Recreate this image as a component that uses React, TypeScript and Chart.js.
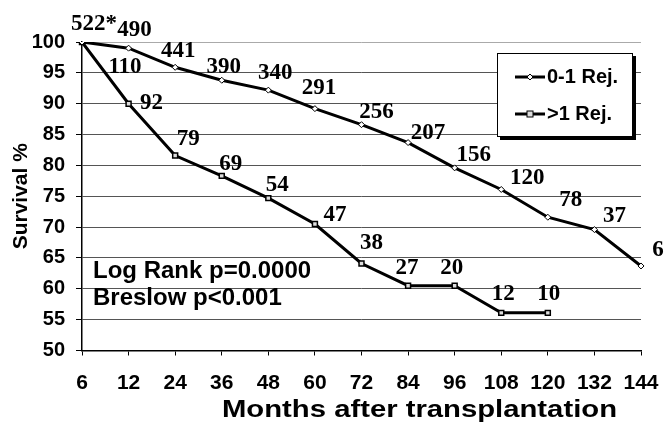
import React, { useEffect, useRef } from 'react';
import { Chart, registerables } from 'chart.js';

Chart.register(...registerables);

// ---- data ----
const months = ['6', '12', '24', '36', '48', '60', '72', '84', '96', '108', '120', '132', '144'];
const seriesNames = ['0-1 Rej.', '>1 Rej.'];
const lowRejSurvival = [100, 99.0, 95.9, 93.8, 92.2, 89.2, 86.6, 83.7, 79.6, 76.1, 71.6, 69.6, 63.7];
const highRejSurvival = [100, 90.0, 81.6, 78.3, 74.7, 70.5, 64.1, 60.5, 60.5, 56.1, 56.1, null, null];
const lowRejAtRisk = ['522*', '490', '441', '390', '340', '291', '256', '207', '156', '120', '78', '37', '6'];
const highRejAtRisk = ['110', '92', '79', '69', '54', '47', '38', '27', '20', '12', '10'];
const statsLines = ['Log Rank p=0.0000', 'Breslow p<0.001'];
const yMin = 50;
const yMax = 100;
const yStep = 5;
const xTitle = 'Months after transplantation';
const yTitle = 'Survival %';

// ---- label placement (offsets from each point, style only) ----
const lowLabelOffsets: [number, number][] = [
  [12, -18], [6, -18], [3, -16], [2, -13], [7, -17], [4, -21], [15, -13],
  [20, -10], [19, -13], [26, -11], [23, -17], [20, -14], [17, -16],
];
const highLabelOffsets: [number, number][] = [
  [43, 25], [23, -1], [13, -16], [9, -12], [9, -13], [20, -9], [10, -20],
  [-1, -18], [-3, -18], [2, -19], [1, -19],
];

const SANS = '"Liberation Sans", Arial, sans-serif';
const SERIF = '"Liberation Serif", "Times New Roman", serif';

const annotationPlugin = {
  id: 'annotations',
  afterDatasetsDraw(chart: any) {
    const ctx = chart.ctx;
    const area = chart.chartArea;
    ctx.save();
    // at-risk labels
    ctx.font = `bold 23px ${SERIF}`;
    ctx.fillStyle = '#000';
    ctx.textAlign = 'center';
    ctx.textBaseline = 'middle';
    const groups = [
      { labels: lowRejAtRisk, offsets: lowLabelOffsets },
      { labels: highRejAtRisk, offsets: highLabelOffsets },
    ];
    groups.forEach((g, di) => {
      const meta = chart.getDatasetMeta(di);
      g.labels.forEach((txt, i) => {
        const pt = meta.data[i];
        if (!pt) return;
        const [dx, dy] = g.offsets[i];
        ctx.fillText(txt, pt.x + dx, pt.y + dy);
      });
    });

    // statistics text
    ctx.font = `bold 24px ${SANS}`;
    ctx.textAlign = 'left';
    ctx.textBaseline = 'alphabetic';
    statsLines.forEach((line, i) => {
      ctx.fillText(line, area.left + 11, area.top + 236 + i * 27);
    });

    // x-axis title (wide bold face as in the original)
    ctx.save();
    ctx.font = `bold 23px ${SANS}`;
    const natural = ctx.measureText(xTitle).width;
    const targetWidth = 395;
    const sx = targetWidth / natural;
    ctx.translate(area.left + 140, area.bottom + 66);
    ctx.scale(sx, 1);
    ctx.fillText(xTitle, 0, 0);
    ctx.restore();

    // legend box
    const bw = 136;
    const bh = 84;
    const bx = area.right - 144;
    const by = area.top + 11;
    ctx.fillStyle = '#000';
    ctx.fillRect(bx + 3, by + 3, bw, bh);
    ctx.fillStyle = '#fff';
    ctx.fillRect(bx, by, bw, bh);
    ctx.strokeStyle = '#000';
    ctx.lineWidth = 1;
    ctx.strokeRect(bx + 0.5, by + 0.5, bw - 1, bh - 1);
    ctx.font = `bold 20px ${SANS}`;
    ctx.textBaseline = 'middle';
    chart.data.datasets.forEach((ds: any, i: number) => {
      const cy = by + 24 + i * 37;
      const lx = bx + 18;
      ctx.strokeStyle = '#000';
      ctx.lineWidth = 3;
      ctx.beginPath();
      ctx.moveTo(lx, cy);
      ctx.lineTo(lx + 30, cy);
      ctx.stroke();
      ctx.fillStyle = '#fff';
      ctx.lineWidth = 1;
      const mx = lx + 15;
      if (ds.pointStyle === 'rectRot') {
        ctx.beginPath();
        ctx.moveTo(mx, cy - 3);
        ctx.lineTo(mx + 3, cy);
        ctx.lineTo(mx, cy + 3);
        ctx.lineTo(mx - 3, cy);
        ctx.closePath();
        ctx.fill();
        ctx.stroke();
      } else {
        ctx.fillStyle = '#ddd';
        ctx.fillRect(mx - 3, cy - 3, 6, 6);
        ctx.strokeRect(mx - 3, cy - 3, 6, 6);
      }
      ctx.fillStyle = '#000';
      ctx.fillText(ds.label, lx + 32, cy);
    });
    ctx.restore();
  },
};

export default function App() {
  const canvasRef = useRef<HTMLCanvasElement | null>(null);

  useEffect(() => {
    const canvas = canvasRef.current;
    if (!canvas) return;
    const chart = new Chart(canvas, {
      type: 'line',
      data: {
        labels: months,
        datasets: [
          {
            label: seriesNames[0],
            data: lowRejSurvival,
            borderColor: '#000',
            borderWidth: 3,
            backgroundColor: '#fff',
            pointStyle: 'rectRot',
            pointRadius: 3,
            pointBorderWidth: 1,
            pointBorderColor: '#000',
            pointBackgroundColor: '#fff',
            tension: 0,
          },
          {
            label: seriesNames[1],
            data: highRejSurvival,
            borderColor: '#000',
            borderWidth: 3,
            backgroundColor: '#fff',
            pointStyle: 'rect',
            pointRadius: 3.5,
            pointBorderWidth: 1.5,
            pointBorderColor: '#000',
            pointBackgroundColor: '#ddd',
            tension: 0,
          },
        ],
      },
      options: {
        responsive: false,
        animation: false,
        layout: { padding: { left: 0, top: 42, right: 24, bottom: 0 } },
        plugins: {
          legend: { display: false },
          tooltip: { enabled: false },
        },
        scales: {
          x: {
            type: 'category',
            offset: false,
            afterFit: (scale: any) => {
              scale.height = 72.5;
              scale.paddingLeft = 0;
              scale.paddingRight = 0;
            },
            grid: {
              display: true,
              drawOnChartArea: false,
              drawTicks: true,
              tickLength: 5,
              tickColor: '#000',
              tickWidth: 1,
            },
            border: { color: '#000', width: 1.5 },
            ticks: {
              color: '#000',
              font: { family: SANS, size: 21, weight: 'bold' },
              padding: 15,
              maxRotation: 0,
              autoSkip: false,
            },
            title: { display: false, text: xTitle },
          },
          y: {
            min: yMin,
            max: yMax,
            afterFit: (scale: any) => {
              scale.width = 82;
            },
            grid: {
              color: (c: any) => (c.tick && c.tick.value === yMax ? '#aaa' : '#555'),
              lineWidth: 1,
              drawTicks: true,
              tickLength: 6,
              tickColor: '#000',
            },
            border: { color: '#000', width: 1.5 },
            ticks: {
              stepSize: yStep,
              color: '#000',
              font: { family: SANS, size: 20, weight: 'bold' },
              padding: 11,
            },
            title: {
              display: true,
              text: yTitle,
              color: '#000',
              font: { family: SANS, size: 21, weight: 'bold' },
              padding: { top: 9, bottom: 0 },
            },
          },
        },
      },
      plugins: [annotationPlugin],
    });
    return () => chart.destroy();
  }, []);

  return (
    <div style={{ position: 'absolute', left: 0, top: 0, width: 665, height: 423, background: '#fff' }}>
      <canvas ref={canvasRef} width={665} height={423} style={{ display: 'block' }} />
    </div>
  );
}
